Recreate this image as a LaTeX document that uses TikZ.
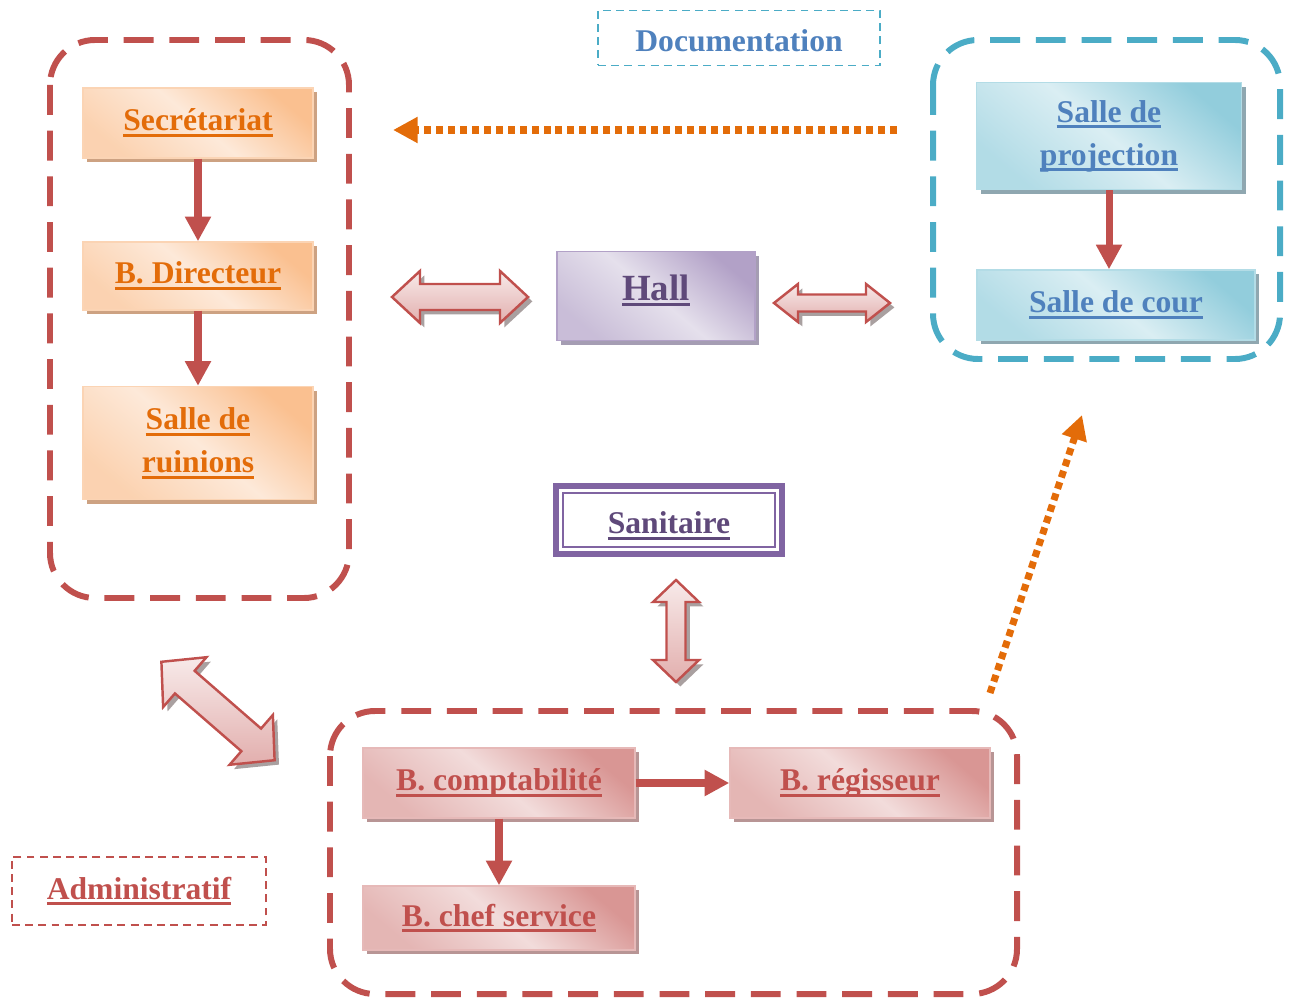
\documentclass[tikz,border=0pt]{standalone}
\usepackage{fontspec}
\setmainfont{Liberation Serif}
\usetikzlibrary{arrows.meta,calc}

\definecolor{rouge}{HTML}{C0504D}
\definecolor{roseclair}{HTML}{F2DCDB}
\definecolor{rosefonce}{HTML}{D99694}
\definecolor{rosebord}{HTML}{E6B9B8}
\definecolor{roseombre}{HTML}{B89595}
\definecolor{orangetxt}{HTML}{E36C09}
\definecolor{orangeclair}{HTML}{FDE9D9}
\definecolor{orangefonce}{HTML}{FAC090}
\definecolor{orangebord}{HTML}{FBD4B4}
\definecolor{orangeombre}{HTML}{CDA282}
\definecolor{bleu}{HTML}{4BACC6}
\definecolor{bleutxt}{HTML}{4F81BD}
\definecolor{bleuclair}{HTML}{DAEEF3}
\definecolor{bleufonce}{HTML}{92CDDC}
\definecolor{bleuombre}{HTML}{8FA7B0}
\definecolor{mauve}{HTML}{8064A2}
\definecolor{mauvetxt}{HTML}{5F497A}
\definecolor{mauveclair}{HTML}{E5E0EC}
\definecolor{mauvefonce}{HTML}{B2A1C7}
\definecolor{mauveombre}{HTML}{A59DB3}
\definecolor{flecheombre}{HTML}{A9A0A0}

% texte souligne d'un trait epais
\newsavebox{\boitesoul}
\newcommand{\souligne}[1]{\leavevmode\sbox{\boitesoul}{#1}%
  \rlap{\rule[-3.5pt]{\wd\boitesoul}{1.6pt}}\usebox{\boitesoul}}

% grosse fleche double : centre, angle, demi-longueur, demi-largeur tete, demi-largeur corps, longueur tete
\newcommand{\doublefleche}[6]{%
  \draw[bloc, shift={(#1)}, rotate=#2] (-#3,0) -- (-#3+#6,#4) -- (-#3+#6,#5) -- (#3-#6,#5)
    -- (#3-#6,#4) -- (#3,0) -- (#3-#6,-#4) -- (#3-#6,-#5) -- (-#3+#6,-#5) -- (-#3+#6,-#4) -- cycle;}

\tikzset{
  boite/.style={rectangle, line width=0.8pt, align=center, inner sep=1pt,
    font=\bfseries\fontsize{18}{24.5}\selectfont},
  ombre/.style={preaction={fill=#1, transform canvas={shift={(2.5pt,-2.5pt)}}}},
  degrade/.style 2 args={top color=#1, bottom color=#1!55!#2, middle color=#2, shading angle=-40},
  boiteorange/.style={boite, ombre=orangeombre, degrade={orangefonce}{orangeclair}, draw=orangebord, text=orangetxt},
  boitebleue/.style={boite, ombre=bleuombre, degrade={bleufonce}{bleuclair}, draw=bleufonce!70, text=bleutxt},
  boiterose/.style={boite, ombre=roseombre, degrade={rosefonce}{roseclair}, draw=rosebord, text=rouge},
  lien/.style={draw=rouge, line width=4pt, -{Triangle[length=14pt,width=14pt]}},
  pointille/.style={draw=orangetxt, line width=4pt, dash pattern=on 4pt off 2.8pt, -{Triangle[length=14pt,width=14pt]}},
  groupe/.style={draw=#1, line width=3.4pt, dash pattern=on 17pt off 9pt, rounded corners=0.9cm},
  etiquette/.style={draw=#1, line width=0.8pt, dash pattern=on 4.5pt off 3pt, font=\bfseries\fontsize{18}{24}\selectfont},
  bloc/.style={draw=rouge, line width=1.4pt, ombre=flecheombre, top color=roseclair!60, bottom color=rosebord!90!rouge}
}

\begin{document}
\begin{tikzpicture}[x=0.02cm,y=-0.02cm]
\useasboundingbox (0,0) rectangle (1293,1003);

% groupes en pointilles
\draw[groupe=rouge] (50,40) rectangle (349,598);
\draw[groupe=bleu] (933,40) rectangle (1280,359);
\draw[groupe=rouge] (330,711) rectangle (1017,994);

% administration (gauche)
\node[boiteorange, minimum width=4.6cm, minimum height=1.4cm] (secr) at (198,123) {\souligne{Secrétariat}};
\node[boiteorange, minimum width=4.6cm, minimum height=1.36cm] (dir) at (198,276) {\souligne{B. Directeur}};
\node[boiteorange, minimum width=4.6cm, minimum height=2.26cm] (reun) at (198,443) {\souligne{Salle de}\\\souligne{ruinions}};
\draw[lien] (secr) -- (dir);
\draw[lien] (dir) -- (reun);

% hall
\node[boite, ombre=mauveombre, degrade={mauvefonce}{mauveclair}, draw=mauvefonce, text=mauvetxt,
  font=\bfseries\fontsize{21}{24}\selectfont, text depth=10pt,
  minimum width=3.96cm, minimum height=1.78cm] (hall) at (656,296) {\souligne{Hall}};

% documentation (droite)
\node[boitebleue, minimum width=5.3cm, minimum height=2.14cm] (proj) at (1109,136) {\souligne{Salle de}\\\souligne{projection}};
\node[boitebleue, minimum width=5.56cm, minimum height=1.4cm] (cour) at (1116,305) {\souligne{Salle de cour}};
\draw[lien] (proj.south) -- (proj.south |- cour.north);

% sanitaire
\node[boite, draw=mauve, line width=3.6pt, outer sep=0pt, fill=white, text=mauvetxt, text height=19pt,
  minimum width=4.52cm, minimum height=1.36cm] (san) at (669,520) {\souligne{Sanitaire}};
\draw[mauve, line width=1.1pt] ($(san.north west)+(7,7)$) rectangle ($(san.south east)+(-7,-7)$);

% bureaux (bas)
\node[boiterose, minimum width=5.44cm, minimum height=1.4cm] (compta) at (499,783) {\souligne{B. comptabilité}};
\node[boiterose, minimum width=5.2cm, minimum height=1.4cm] (regis) at (860,783) {\souligne{B. régisseur}};
\node[boiterose, minimum width=5.44cm, minimum height=1.28cm] (chef) at (499,918) {\souligne{B. chef service}};
\draw[lien] (compta) -- (regis);
\draw[lien] (compta) -- (chef);

% etiquettes
\node[etiquette=bleu, text=bleutxt, text height=16pt, minimum width=5.64cm, minimum height=1.1cm] (doc) at (739,38) {Documentation};
\node[etiquette=rouge, text=rouge, minimum width=5.08cm, minimum height=1.36cm] (admin) at (139,891) {\souligne{Administratif}};

% fleches orange
\coordinate (dep1) at (897,130);
\coordinate (arr1) at (393,130);
\draw[pointille] (dep1) -- (arr1);
\coordinate (dep2) at (990,693);
\coordinate (arr2) at (1082,415);
\draw[pointille] (dep2) -- (arr2);

% grosses fleches
\doublefleche{460,297}{0}{68}{26}{13}{28}
\doublefleche{832,303}{0}{58}{19}{8.5}{24}
\doublefleche{676,631}{90}{51}{23}{9.5}{22}
\doublefleche{218,711}{-41}{75}{33}{15}{31}
\end{tikzpicture}
\end{document}
